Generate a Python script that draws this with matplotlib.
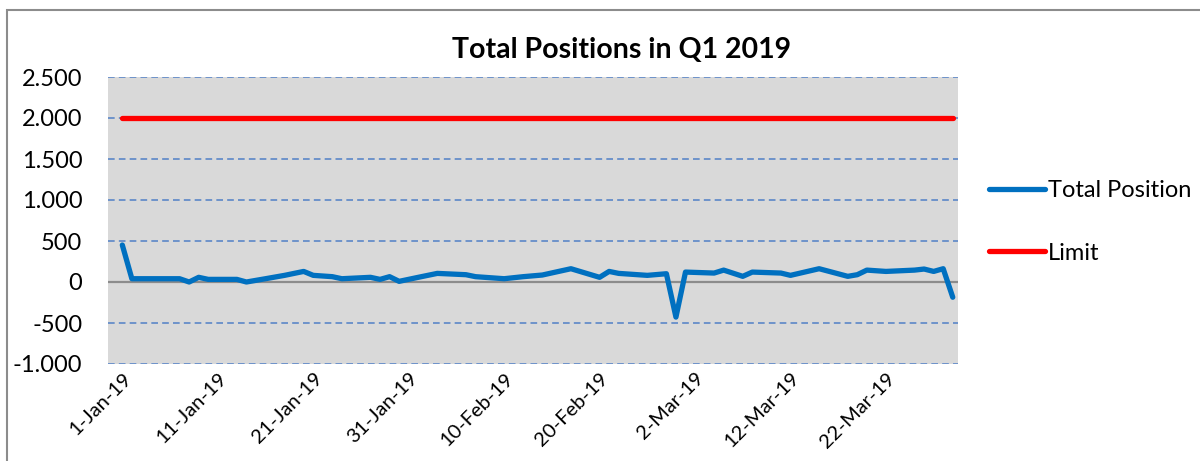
import matplotlib
matplotlib.use("Agg")
import matplotlib.pyplot as plt
from matplotlib.patches import Rectangle
from matplotlib.ticker import FuncFormatter
import matplotlib.transforms as mtrans
import pandas as pd

# ---- data ----
start = pd.Timestamp("2019-01-01")
day_offsets = [0, 1, 6, 7, 8, 9, 12, 13, 15, 17, 19, 20, 22, 23, 26, 27, 28, 29, 31,
               33, 36, 37, 40, 42, 44, 47, 50, 51, 52, 55, 57, 58, 59, 62, 63, 65, 66,
               69, 70, 73, 76, 77, 78, 80, 83, 84, 85, 86, 87]
total_position = [451, 40, 40, 0, 57, 32, 32, 0, 40, 81, 129, 81, 65, 40, 57, 32, 65, 8, 57,
                  105, 89, 65, 40, 65, 85, 162, 57, 129, 105, 81, 101, -428, 121, 109, 145, 69, 121,
                  109, 81, 162, 69, 89, 145, 129, 145, 158, 129, 162, -186]
limit_value = 2000
dates = [start + pd.Timedelta(days=d) for d in day_offsets]
limit = [limit_value] * len(dates)
y_ticks = [-1000, -500, 0, 500, 1000, 1500, 2000, 2500]
title = "Total Positions in Q1 2019"
series_names = ["Total Position", "Limit"]

plt.rcParams['font.family'] = ['Lato', 'DejaVu Sans']

fig = plt.figure(figsize=(12, 4.61), dpi=100)
fig.patch.set_facecolor("white")
# chart border (extends past right/bottom edges)
fig.patches.append(Rectangle((7/1200, -0.05), 1.2, 1 - 10/461 + 0.05,
                             transform=fig.transFigure, fill=False,
                             edgecolor="#8c8c8c", linewidth=1.5))

ax = fig.add_axes([108/1200, 1 - 364/461, (958-108)/1200, (364-77)/461])
ax.set_facecolor("#D9D9D9")

for yv in y_ticks:
    if yv == 0:
        ax.axhline(yv, color="#8c8c8c", lw=1.6, zorder=1)
    else:
        ax.axhline(yv, color="#5B87C8", lw=1.2, ls=(0, (4, 2.5)), zorder=1)

l1, = ax.plot(dates, total_position, color="#0070C0", lw=3.8, solid_capstyle="round",
              solid_joinstyle="round", zorder=3)
l2, = ax.plot([dates[0], dates[-1]], [limit[0], limit[-1]], color="#FF0000", lw=3.8,
              solid_capstyle="round", zorder=3)

ax.set_ylim(-1000, 2500)
ax.set_yticks(y_ticks)
ax.yaxis.set_major_formatter(FuncFormatter(lambda v, p: f"{int(v):,}".replace(",", ".")))
ax.set_xlim(start - pd.Timedelta(days=1.5), start + pd.Timedelta(days=87.55))
xt = [start + pd.Timedelta(days=10*i) for i in range(9)]
ax.set_xticks(xt)
ax.set_xticklabels([f"{d.day}-{d.strftime('%b')}-{d.strftime('%y')}" for d in xt],
                   rotation=45, ha="right", rotation_mode="anchor", fontsize=14.5)
offset = mtrans.ScaledTranslation(-5/100, 0, fig.dpi_scale_trans)
for lab in ax.get_xticklabels():
    lab.set_transform(lab.get_transform() + offset)
ax.tick_params(axis="y", labelsize=17, length=0, pad=18.5)
ax.tick_params(axis="x", length=0, pad=4)
for s in ax.spines.values():
    s.set_visible(False)

fig.text(622/1200, 1 - 50/461, title, ha="center", va="center", fontsize=20.5,
         fontweight="bold")

fig.legend([l1, l2], series_names, loc="center left",
           bbox_to_anchor=(968/1200, 1 - 222/461), frameon=False, fontsize=17,
           handlelength=2.35, handletextpad=0.12, labelspacing=1.75)

fig.savefig("out.png", dpi=100)
